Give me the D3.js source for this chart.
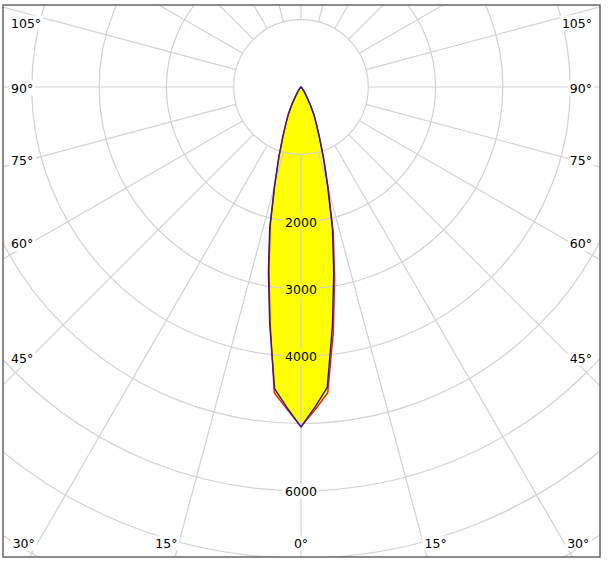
<!DOCTYPE html>
<html><head><meta charset="utf-8">
<script src="https://cdn.jsdelivr.net/npm/d3@7"></script>
<style>html,body{margin:0;padding:0;background:#fff}svg{display:block}</style>
</head><body>
<svg id="chart" width="609" height="566"></svg>
<script>
// ---------- data ----------
const gammaAngles = [0, 2.5, 5, 7.5, 10, 12.5, 15, 17.5, 20, 22.5, 25, 27.5, 30, 35, 40, 45, 50, 60, 70, 80, 90];
// C90 / C270 plane (blue)
const blueC90  = [5050, 4760, 4480, 3580, 2800, 2160, 1530, 1110, 800, 590, 450, 300, 180, 80, 35, 15, 6, 2, 0, 0, 0];
const blueC270 = [5050, 4770, 4500, 3560, 2790, 2150, 1520, 1100, 795, 585, 445, 298, 178, 79, 35, 15, 6, 2, 0, 0, 0];
// C0 / C180 plane (red)
const redC0    = [5050, 4800, 4560, 3680, 2880, 2220, 1570, 1140, 820, 610, 460, 310, 185, 82, 36, 15, 6, 2, 0, 0, 0];
const redC180  = [5050, 4790, 4560, 3520, 2740, 2110, 1500, 1090, 790, 580, 440, 295, 175, 78, 34, 14, 6, 2, 0, 0, 0];

const ringValues  = [1000, 2000, 3000, 4000, 5000, 6000, 7000, 8000, 9000];
const ringLabels  = [2000, 3000, 4000, 6000];
const spokeAngles = [0, 15, 30, 45, 60, 75, 90, 105, 120, 135, 150, 165, 180, 195, 210, 225, 240, 255, 270, 285, 300, 315, 330, 345];
const angleLabels = [0, 15, 30, 45, 60, 75, 90, 105];

// ---------- layout ----------
const W = 609, H = 566, cx = 301, cy = 87;
const frame = {x: 3, y: 5, w: 597, h: 552};
const FONT = "DejaVu Sans, Verdana, sans-serif";
const rad = d => d * Math.PI / 180;

const svg = d3.select('#chart');
const defs = svg.append('defs');
defs.append('clipPath').attr('id', 'clip').append('rect')
  .attr('x', frame.x).attr('y', frame.y).attr('width', frame.w).attr('height', frame.h);
const mask = defs.append('mask').attr('id', 'gridMask')
  .attr('maskUnits', 'userSpaceOnUse').attr('x', 0).attr('y', 0).attr('width', W).attr('height', H);
mask.append('rect').attr('width', W).attr('height', H).attr('fill', '#fff');

svg.append('rect').attr('width', W).attr('height', H).attr('fill', '#fff');
const root = svg.append('g').attr('clip-path', 'url(#clip)');

const rScale = d3.scaleLinear().domain([0, 1000]).range([0, 67.3]);

function halfPoints(vals, side) {
  return gammaAngles.map((g, i) => ({
    a: side > 0 ? Math.PI - rad(g) : Math.PI + rad(g),
    r: rScale(vals[i])
  }));
}
function curvePoints(rightVals, leftVals) {
  return halfPoints(rightVals, 1).concat(halfPoints(leftVals, -1).reverse());
}
const radial = d3.lineRadial().angle(d => d.a).radius(d => d.r).curve(d3.curveLinearClosed);
const redPts = curvePoints(redC0, redC180);
const bluePts = curvePoints(blueC90, blueC270);

// fill
const fillG = root.append('g').attr('transform', `translate(${cx},${cy})`);
fillG.append('path').attr('d', radial(redPts)).attr('fill', '#ffff00');
fillG.append('path').attr('d', radial(bluePts)).attr('fill', '#ffff00');

// grid
const gridOuter = root.append('g').attr('mask', 'url(#gridMask)');
const grid = gridOuter.append('g').attr('transform', `translate(${cx},${cy})`)
  .attr('fill', 'none').attr('stroke', '#d2d2d2').attr('stroke-width', 1.2);
grid.selectAll('circle').data(ringValues).join('circle').attr('r', d => rScale(d));
const r0 = rScale(ringValues[0]);
grid.selectAll('line').data(spokeAngles).join('line')
  .attr('x1', d => r0 * Math.sin(rad(d))).attr('y1', d => r0 * Math.cos(rad(d)))
  .attr('x2', d => 1200 * Math.sin(rad(d))).attr('y2', d => 1200 * Math.cos(rad(d)));

// outlines
const lineG = root.append('g').attr('transform', `translate(${cx},${cy})`).attr('fill', 'none');
lineG.append('path').attr('d', radial(redPts)).attr('stroke', '#ff1a00').attr('stroke-width', 1.4).attr('stroke-linejoin', 'round');
lineG.append('path').attr('d', radial(bluePts)).attr('stroke', '#2318b0').attr('stroke-width', 1.4).attr('stroke-linejoin', 'round');

// labels
const labG = root.append('g').attr('font-family', FONT).attr('font-size', 12.5).attr('fill', '#000');
const allLabels = [];

ringLabels.forEach(v => {
  const t = labG.append('text').attr('x', cx).attr('y', cy + rScale(v) + 0.5)
    .attr('text-anchor', 'middle').attr('dominant-baseline', 'central').text(v);
  allLabels.push(t);
});

const sideOff = 270, bottomLine = frame.y + frame.h - 9, bottomCenter = frame.y + frame.h - 14;
const minX = frame.x + 8, maxX = frame.x + frame.w - 8, minCY = frame.y + 18;
angleLabels.forEach(g => {
  const sides = g === 0 ? [0] : [-1, 1];
  sides.forEach(s => {
    const sn = Math.sin(rad(g)), cs = Math.cos(rad(g));
    let x, y, anchor;
    if (s === 0) { x = cx; y = bottomCenter; anchor = 'middle'; }
    else {
      const tSide = sideOff / sn;
      const tBot = cs > 0 ? (bottomLine - cy) / cs : Infinity;
      if (tSide <= tBot) {
        x = cx + s * sideOff + (s < 0 ? 2 : 0);
        y = Math.max(minCY, cy + tSide * cs + 1);
      } else {
        x = cx + s * tBot * sn;
        y = bottomCenter;
      }
      anchor = s < 0 ? 'end' : 'start';
    }
    const t = labG.append('text').attr('x', x).attr('y', y)
      .attr('text-anchor', anchor).attr('dominant-baseline', 'central').text(g + '°');
    const w = t.node().getComputedTextLength();
    let left = anchor === 'end' ? x - w : anchor === 'start' ? x : x - w / 2;
    let shift = 0;
    if (left < minX) shift = minX - left;
    if (left + w > maxX) shift = maxX - (left + w);
    if (shift) t.attr('x', x + shift);
    allLabels.push(t);
  });
});

// knock gridlines out behind labels
allLabels.forEach(t => {
  const b = t.node().getBBox();
  mask.append('rect').attr('x', b.x - 2).attr('y', b.y).attr('width', b.width + 4).attr('height', b.height)
    .attr('fill', '#000');
});

// frame
svg.append('rect').attr('x', frame.x).attr('y', frame.y).attr('width', frame.w).attr('height', frame.h)
  .attr('fill', 'none').attr('stroke', '#666').attr('stroke-width', 1.5);
</script>
</body></html>
